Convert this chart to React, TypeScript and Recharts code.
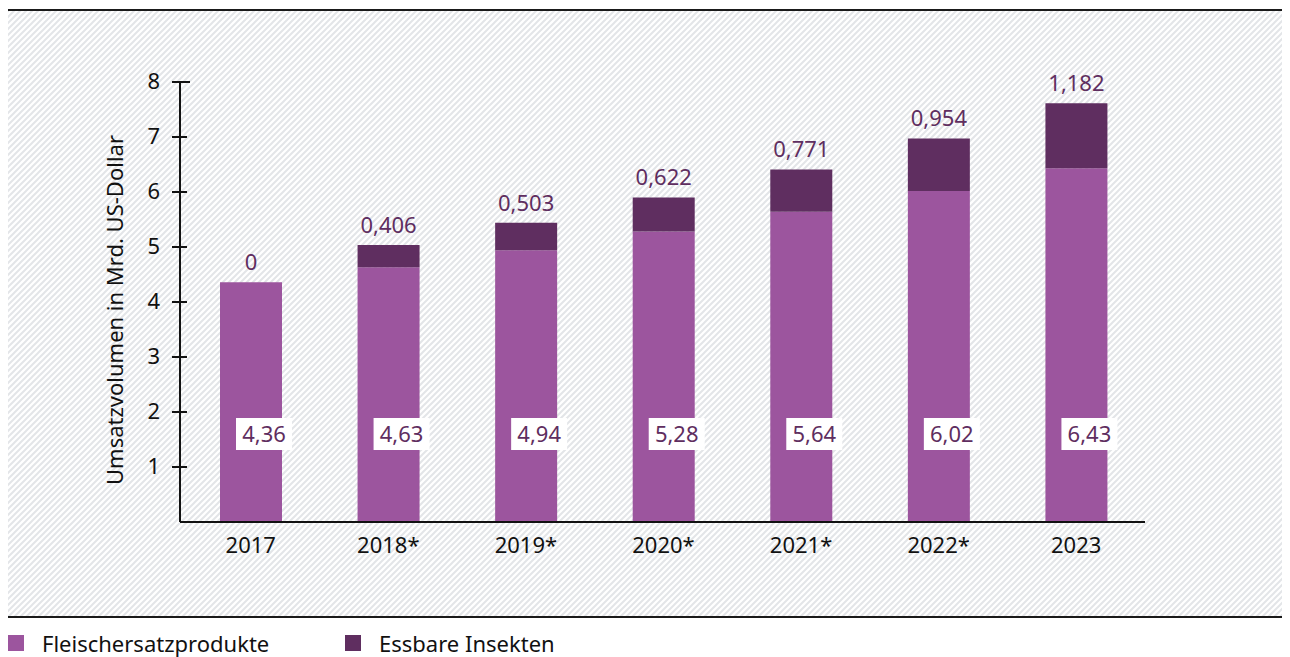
import { BarChart, Bar, XAxis, YAxis, Legend, LabelList, Label } from 'recharts';

const years = ['2017', '2018*', '2019*', '2020*', '2021*', '2022*', '2023'];
const fleischersatz = [4.36, 4.63, 4.94, 5.28, 5.64, 6.02, 6.43];
const insekten = [0, 0.406, 0.503, 0.622, 0.771, 0.954, 1.182];
const yTicks = [1, 2, 3, 4, 5, 6, 7, 8];

const LIGHT = '#9c559e';
const DARK = '#5f2e60';
const FONT = '"Noto Sans", sans-serif';
const FS = 22;

const data = years.map((year, i) => ({
  year,
  fleisch: fleischersatz[i],
  insekten: insekten[i],
}));

const fmt = (v: number, digits: number) => v.toFixed(digits).replace('.', ',');

// 6px tile with a "/" stripe, repeated over the whole panel
const HATCH =
  "url(\"data:image/svg+xml;utf8,<svg xmlns='http://www.w3.org/2000/svg' width='6' height='6'>" +
  "<path d='M-1.5,1.5 L1.5,-1.5 M0,6 L6,0 M4.5,7.5 L7.5,4.5' stroke='%23e3e5e8' stroke-width='2'/></svg>\")";

// y tick with a cross mark on the axis line
const YTick = (props: any) => {
  const { x, y, payload } = props;
  const top = payload.value === 8;
  return (
    <g>
      <line x1={x - 8} x2={x + (top ? 10 : 7)} y1={y} y2={y} stroke="#111" strokeWidth={2} />
      <text x={x - 20} y={y} dy={7} textAnchor="end" fontSize={FS} fill="#111" fontFamily={FONT}>
        {payload.value}
      </text>
    </g>
  );
};

// value inside the lower bar, on a white box at a fixed height above the base
const InnerLabel = (props: any) => {
  const { x, y, width, height, value } = props;
  const cx = x + width / 2 + 13;
  const cy = y + height - 88;
  return (
    <g>
      <rect x={cx - 28} y={cy - 16} width={56} height={32} fill="#fff" />
      <text x={cx} y={cy} dy={7.5} textAnchor="middle" fontSize={FS} fill={DARK} fontFamily={FONT}>
        {fmt(value, 2)}
      </text>
    </g>
  );
};

const TopLabel = (props: any) => {
  const { x, y, width, value } = props;
  return (
    <text x={x + width / 2} y={y - 12} textAnchor="middle" fontSize={FS} fill={DARK} fontFamily={FONT}>
      {fmt(value, 3)}
    </text>
  );
};

// zero-height upper segments draw nothing, so their "0" is set on the lower bar
const ZeroLabel = (props: any) => {
  const { x, y, width, value } = props;
  if (value !== 0) return null;
  return (
    <text x={x + width / 2} y={y - 12} textAnchor="middle" fontSize={FS} fill={DARK} fontFamily={FONT}>
      0
    </text>
  );
};

const LegendContent = () => (
  <div style={{ display: 'flex', fontFamily: FONT, fontSize: FS, color: '#111' }}>
    {[
      { name: 'Fleischersatzprodukte', color: LIGHT, w: 337 },
      { name: 'Essbare Insekten', color: DARK, w: 300 },
    ].map(item => (
      <div key={item.name} style={{ display: 'flex', alignItems: 'center', width: item.w }}>
        <span style={{ width: 16, height: 16, background: item.color, marginRight: 18 }} />
        <span>{item.name}</span>
      </div>
    ))}
  </div>
);

export default function App() {
  return (
    <div style={{ position: 'relative', width: 1282, height: 649, fontFamily: FONT }}>
      <div
        style={{
          position: 'absolute',
          left: 0,
          top: 1,
          width: 1282,
          height: 605,
          borderTop: '2px solid #1a1a1a',
          borderBottom: '2px solid #1a1a1a',
          backgroundColor: '#fff',
          backgroundImage: HATCH,
        }}
      />
      <div style={{ position: 'absolute', left: 0, top: 0 }}>
        <BarChart
          width={1282}
          height={649}
          data={data}
          margin={{ top: 74, right: 145, bottom: 105, left: 0 }}
          barSize={62}
        >
          <XAxis
            dataKey="year"
            axisLine={{ stroke: '#111', strokeWidth: 2 }}
            tickLine={false}
            tickSize={0}
            tickMargin={15}
            padding={{ left: 2, right: 0 }}
            tick={{ fill: '#111', fontSize: FS, fontFamily: FONT }}
          />
          <YAxis
            width={172}
            domain={[0, 8]}
            ticks={yTicks}
            interval={0}
            axisLine={{ stroke: '#111', strokeWidth: 2 }}
            tickLine={false}
            tickSize={0}
            tickMargin={0}
            tick={<YTick />}
          >
            <Label
              content={(p: any) => {
                const vb = p.viewBox;
                const cx = 107;
                const cy = vb.y + vb.height / 2 + 8;
                return (
                  <text
                    x={cx}
                    y={cy}
                    transform={`rotate(-90 ${cx} ${cy})`}
                    textAnchor="middle"
                    dy={8}
                    fontSize={FS}
                    fill="#111"
                    fontFamily={FONT}
                  >
                    Umsatzvolumen in Mrd. US-Dollar
                  </text>
                );
              }}
            />
          </YAxis>
          <Legend
            layout="horizontal"
            verticalAlign="middle"
            align="center"
            content={<LegendContent />}
            wrapperStyle={{ position: 'absolute', top: 620, left: 0, width: 800 }}
          />
          <Bar dataKey="fleisch" stackId="a" fill={LIGHT} isAnimationActive={false} name="Fleischersatzprodukte">
            <LabelList dataKey="fleisch" content={<InnerLabel />} />
            <LabelList dataKey="insekten" content={<ZeroLabel />} />
          </Bar>
          <Bar dataKey="insekten" stackId="a" fill={DARK} isAnimationActive={false} name="Essbare Insekten">
            <LabelList dataKey="insekten" content={<TopLabel />} />
          </Bar>
        </BarChart>
      </div>
    </div>
  );
}
